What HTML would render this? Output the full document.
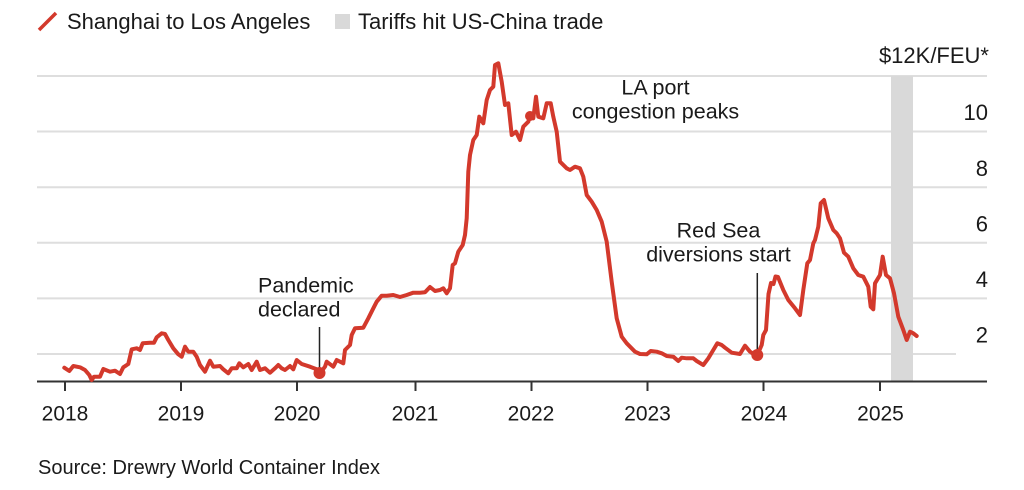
<!DOCTYPE html>
<html>
<head>
<meta charset="utf-8">
<style>
  html, body { margin: 0; padding: 0; background: #ffffff; }
  body { width: 1024px; height: 490px; overflow: hidden; }
  svg { display: block; }
  text { font-family: "Liberation Sans", Arial, sans-serif; fill: #1a1a1a; }
</style>
</head>
<body>
<svg width="1024" height="490" viewBox="0 0 1024 490" xmlns="http://www.w3.org/2000/svg">
  <!-- Legend -->
  <line x1="39" y1="30" x2="56" y2="13" stroke="#d3392c" stroke-width="3.5" stroke-linecap="butt"/>
  <text x="67" y="29" font-size="22">Shanghai to Los Angeles</text>
  <rect x="335" y="14" width="15" height="15" fill="#d9d9d9"/>
  <text x="358" y="29" font-size="22">Tariffs hit US-China trade</text>

  <!-- Gridlines -->
  <g stroke="#dedede" stroke-width="2">
    <line x1="37" y1="76" x2="987" y2="76"/>
    <line x1="37" y1="131.5" x2="987" y2="131.5"/>
    <line x1="37" y1="187.3" x2="987" y2="187.3"/>
    <line x1="37" y1="242.8" x2="987" y2="242.8"/>
    <line x1="37" y1="298.4" x2="987" y2="298.4"/>
    <line x1="37" y1="354" x2="956" y2="354"/>
  </g>

  <!-- Tariff band -->
  <rect x="891" y="76" width="22" height="305" fill="#d9d9d9"/>

  <!-- Y labels -->
  <g font-size="22" text-anchor="end">
    <text x="989" y="63">$12K/FEU*</text>
    <text x="988" y="120">10</text>
    <text x="988" y="176">8</text>
    <text x="988" y="231.5">6</text>
    <text x="988" y="287">4</text>
    <text x="988" y="342.5">2</text>
  </g>

  <!-- Axis -->
  <line x1="37" y1="381.5" x2="987" y2="381.5" stroke="#333" stroke-width="2"/>
  <g stroke="#333" stroke-width="2">
    <line x1="65" y1="381" x2="65" y2="391"/>
    <line x1="181" y1="381" x2="181" y2="391"/>
    <line x1="297" y1="381" x2="297" y2="391"/>
    <line x1="415.5" y1="381" x2="415.5" y2="391"/>
    <line x1="531.5" y1="381" x2="531.5" y2="391"/>
    <line x1="647.5" y1="381" x2="647.5" y2="391"/>
    <line x1="763.5" y1="381" x2="763.5" y2="391"/>
    <line x1="880" y1="381" x2="880" y2="391"/>
  </g>
  <g font-size="21" text-anchor="middle">
    <text x="65" y="420.5">2018</text>
    <text x="181" y="420.5">2019</text>
    <text x="297" y="420.5">2020</text>
    <text x="415" y="420.5">2021</text>
    <text x="531" y="420.5">2022</text>
    <text x="647.5" y="420.5">2023</text>
    <text x="764" y="420.5">2024</text>
    <text x="880.5" y="420.5">2025</text>
  </g>

  <!-- Annotations -->
  <line x1="319.5" y1="327" x2="319.5" y2="368" stroke="#222" stroke-width="1.5"/>
  <line x1="757.3" y1="273" x2="757.3" y2="350" stroke="#222" stroke-width="1.5"/>
  <g font-size="21.5">
    <text x="258" y="292.5">Pandemic</text>
    <text x="258" y="316.5">declared</text>
  </g>
  <g font-size="21.5" text-anchor="middle">
    <text x="655.5" y="94.3">LA port</text>
    <text x="655.5" y="118.3">congestion peaks</text>
    <text x="718.5" y="237.7">Red Sea</text>
    <text x="718.5" y="261.7">diversions start</text>
  </g>

  <!-- Series -->
  <polyline fill="none" stroke="#d3392c" stroke-width="4" stroke-linejoin="round" stroke-linecap="round" points="
64.3,367.7 69.3,371 73.3,366 80,367.3 85,370 89.3,375 91.7,380 94,376.7 100,376.7 103.3,369 110,371.7 115,370.7 120,374 123.3,367.3 128.3,364 131.7,349.3 136.7,348.3 140,350 142.7,343.3 150,342.7 154,342.7 156.7,337.3 161.7,333.3 165,334 168.3,340 173.3,348.3 178.3,354.3 181.7,356.7 185,346.7 188.3,351.7 193.3,351.7 196.7,356.7 200,365 205,371.7 210,360.7 213.3,366.7 220,366 223.3,369.3 228.3,373.3 231.7,368.3 236.7,368.3 239.3,363.3 243.3,367.3 248.3,364 251.7,370 256.7,361.7 260,370 265,368.3 270,372.7 275,368.3 278.3,365 281.7,368.3 285,370 290,366 293.3,369.3 296.7,360 301.7,364 310,366.7 316.7,369.3 320,373.3 325,366.7 326.7,361.7 333.3,366.7 336.7,360 343.3,363.3 345,350 350,345 351.7,335 355,328.3 363.3,327.7 368.3,318.3 373.3,308.3 376.7,301.7 381.7,295.7 386.7,295.7 393.3,295 400,297 406.7,295 413.3,292.7 420,292.7 425,292.3 430,287 435,291 440,290 443.3,288.3 446.7,293.3 450,288.3 452.7,265 455,263.3 458.3,251.7 462.7,245 465,235 466.7,218.3 468.3,171.7 470,155 473.3,140 476.7,135 479.3,116.7 483.3,123.3 486.7,100 490,90 493.3,86.7 495,65 498.3,63.3 501.7,81.7 505,105 508.3,103.3 511.7,135 516,131.7 520,140 523.3,126.7 528.3,121.7 530,115 533.3,118.3 536,96.7 538.3,116.7 543.3,118.3 546.7,103.3 550.7,103.3 553.3,116.7 556.7,131.7 560,161.7 566.7,168.3 570,170 575,166.7 580,168.3 583.3,176.7 586.7,195 591.7,201.7 596.7,210 601.7,221.7 606.7,241.7 611.7,281.7 616.7,318.3 621.7,336.7 626.7,343.3 635,351.7 640,354 646.7,354.3 650.7,351 656.7,351.7 661.7,353.3 666.7,356 673.3,356.7 678.3,361 681.7,357.7 686.7,358.3 693.3,358.3 696.7,361 703.3,365 708.3,358.3 713.3,350 717.3,343.3 721.7,345 725,347.7 731.7,352.7 740,354 745,345.7 750,351.7 755,355 757.3,355 761.7,345 763.3,335 766,330 768.5,294 771,283 773.5,284 775.5,276.5 778,277 783.3,290 788.3,300 795,308.3 800,315 803.3,290 807.3,263.3 810,260 813.3,243.3 815,240 818.3,226.7 820.7,203.3 824,200 828.3,218.3 833.3,230 836.7,233.3 840,238.3 844,252.7 848.3,256.7 853.3,268.3 858.3,275 863.3,276.7 868.3,286.7 870.7,306.7 873.3,309.3 875,283.3 880,275 882.7,256.7 886,275 890,278.3 894,293.3 898.3,316.7 903.3,330 906.7,340 910,331.7 913.3,333.3 916.7,336"/>

  <!-- Event dots -->
  <circle cx="319.5" cy="373" r="6" fill="#d3392c"/>
  <circle cx="530" cy="116" r="5" fill="#d3392c"/>
  <circle cx="757.3" cy="355" r="6" fill="#d3392c"/>

  <!-- Source -->
  <text x="38" y="474" font-size="20">Source: Drewry World Container Index</text>
</svg>
</body>
</html>
